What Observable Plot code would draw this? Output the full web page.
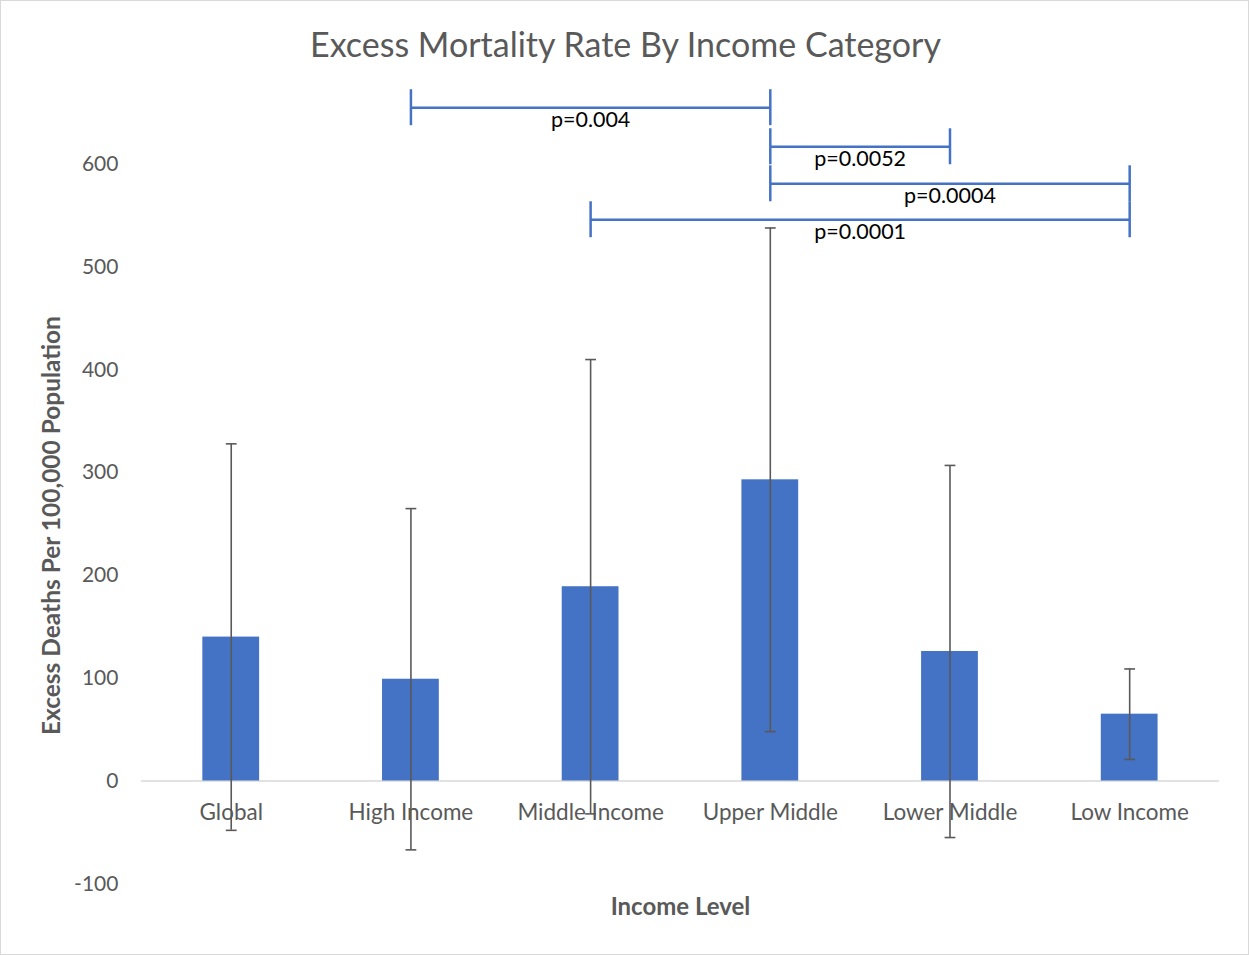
<!DOCTYPE html>
<html>
<head>
<meta charset="utf-8">
<script src="https://cdn.jsdelivr.net/npm/d3@7"></script>
<script src="https://cdn.jsdelivr.net/npm/@observablehq/plot@0.6"></script>
<style>
  html, body { margin: 0; padding: 0; background: #fff; }
  #wrap { position: relative; width: 1249px; height: 955px; box-sizing: border-box; border: 1px solid #d9d9d9; overflow: hidden; }
  #title { position: absolute; left: 0; width: 1249px; top: 22px; text-align: center; font-family: Lato, "Open Sans", sans-serif; font-size: 34px; color: #595959; }
  #chart { position: absolute; left: -1px; top: -1px; }
</style>
</head>
<body>
<div id="wrap">
  <div id="chart"></div>
  <div id="title">Excess Mortality Rate By Income Category</div>
</div>
<script>
const categories = ["Global", "High Income", "Middle Income", "Upper Middle", "Lower Middle", "Low Income"];
const values = [140, 99, 189, 293, 126, 65];
const errors = [188, 166, 221, 245, 181, 44];
const yTicks = [-100, 0, 100, 200, 300, 400, 500, 600];

const bracketFrom = ["High Income", "Upper Middle", "Upper Middle", "Middle Income"];
const bracketTo = ["Upper Middle", "Lower Middle", "Low Income", "Low Income"];
const bracketY = [655, 617, 581, 546];
const bracketLabels = ["p=0.004", "p=0.0052", "p=0.0004", "p=0.0001"];

const rows = categories.map((c, i) => ({i, c, v: values[i], lo: values[i] - errors[i], hi: values[i] + errors[i]}));
const brackets = bracketLabels.map((label, k) => ({
  x1: categories.indexOf(bracketFrom[k]),
  x2: categories.indexOf(bracketTo[k]),
  y: bracketY[k],
  label
}));

const FONT = "Lato, 'Open Sans', sans-serif";
const GREY = "#595959";
const BLUE = "#4472C4";
const barHalf = 0.158, capHalf = 0.03, bracketTick = 17.5;

const plot = Plot.plot({
  width: 1249,
  height: 955,
  marginLeft: 141,
  marginRight: 29,
  marginTop: 61,
  marginBottom: 71,
  style: {fontFamily: FONT, background: "transparent"},
  x: {type: "linear", domain: [-0.5, 5.5], axis: null},
  y: {domain: [-100, 700], axis: null},
  marks: [
    Plot.axisY({ticks: yTicks, tickFormat: d => String(d), tickSize: 0, tickPadding: 23, fontSize: 21, fill: GREY, label: null}),
    Plot.ruleY([0], {stroke: "#d9d9d9", strokeWidth: 1.5}),
    Plot.rectY(rows, {x1: d => d.i - barHalf, x2: d => d.i + barHalf, y1: 0, y2: "v", fill: BLUE}),
    Plot.ruleX(rows, {x: "i", y1: "lo", y2: "hi", stroke: GREY, strokeWidth: 1.6}),
    Plot.link(rows, {x1: d => d.i - capHalf, x2: d => d.i + capHalf, y1: "hi", y2: "hi", stroke: GREY, strokeWidth: 1.6}),
    Plot.link(rows, {x1: d => d.i - capHalf, x2: d => d.i + capHalf, y1: "lo", y2: "lo", stroke: GREY, strokeWidth: 1.6}),
    Plot.text(rows, {x: "i", y: 0, text: "c", dy: 32, fontSize: 22.5, fill: GREY}),
    Plot.link(brackets, {x1: "x1", x2: "x2", y1: "y", y2: "y", stroke: BLUE, strokeWidth: 2.5}),
    Plot.ruleX(brackets, {x: "x1", y1: d => d.y - bracketTick, y2: d => d.y + bracketTick, stroke: BLUE, strokeWidth: 2.5}),
    Plot.ruleX(brackets, {x: "x2", y1: d => d.y - bracketTick, y2: d => d.y + bracketTick, stroke: BLUE, strokeWidth: 2.5}),
    Plot.text(brackets, {x: d => (d.x1 + d.x2) / 2, y: "y", text: "label", dy: 12, fontSize: 21.5, fill: "#000"}),
    Plot.text(["Income Level"], {frameAnchor: "bottom", dy: 31, fontSize: 24, fontWeight: "bold", fill: GREY}),
    Plot.text(["Excess Deaths Per 100,000 Population"], {frameAnchor: "left", textAnchor: "middle", dx: -89, dy: 53, rotate: -90, fontSize: 24.5, fontWeight: "bold", fill: GREY})
  ]
});
document.getElementById("chart").appendChild(plot);
</script>
</body>
</html>
